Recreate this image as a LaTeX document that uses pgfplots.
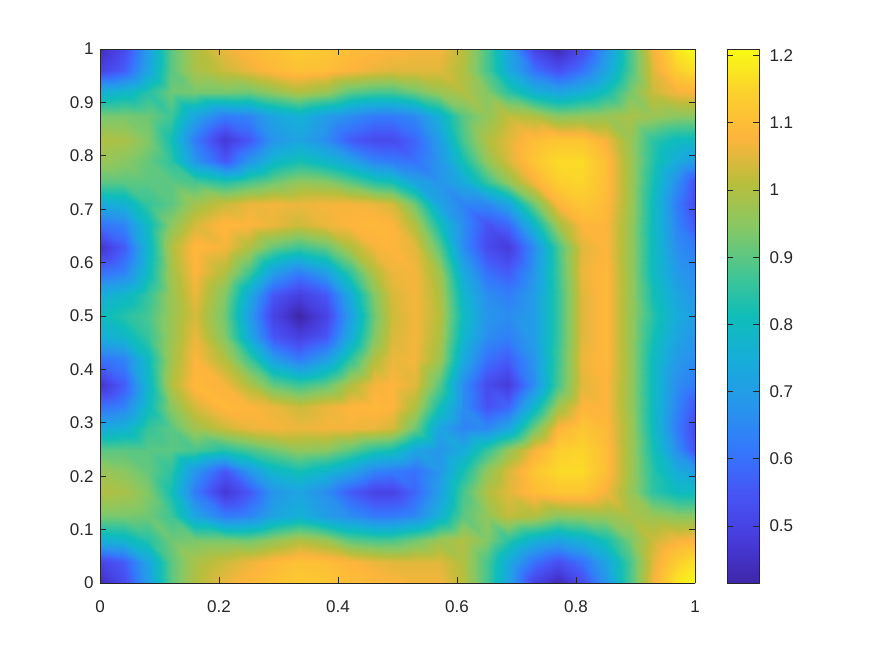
\documentclass[border=0pt]{standalone}
\usepackage{fontspec}
\setmainfont{Liberation Sans}
\usepackage{pgfplots}
\pgfplotsset{compat=1.18}
\definecolor{axgray}{gray}{0.15}
\pgfplotsset{colormap={parula}{
rgb255=(62,38,168) rgb255=(71,60,220) rgb255=(71,85,246) rgb255=(52,120,252)
rgb255=(39,150,235) rgb255=(23,173,218) rgb255=(15,189,185) rgb255=(70,198,145)
rgb255=(135,200,100) rgb255=(185,190,60) rgb255=(253,180,60) rgb255=(252,208,45)
rgb255=(249,251,21)},
  every axis/.append style={
    scale only axis, height=534pt,
    view={0}{90}, axis on top,
    colormap name=parula,
    point meta min=0.415, point meta max=1.21,
    tick align=inside,
    major tick length=6pt,
    axis line style={axgray,line width=0.7pt},
    tick style={axgray,line width=0.7pt},
    ticklabel style={text=axgray,font=\fontsize{17}{20}\selectfont},
    /pgf/number format/assume math mode=true,
  }}
\begin{document}
\begin{tikzpicture}
\useasboundingbox (-100pt,-73pt) rectangle (775pt,583pt);
\begin{axis}[
  width=595pt,
  xmin=0, xmax=1, ymin=0, ymax=1,
  xtick={0,0.2,0.4,0.6,0.8,1},
  ytick={0,0.1,0.2,0.3,0.4,0.5,0.6,0.7,0.8,0.9,1},
  xticklabel style={yshift=-14pt},
  yticklabel style={xshift=-3pt},
]
\addplot3[surf, shader=interp, mesh/cols=26, mesh/rows=25] table[row sep=\\] {
x y z\\
0 0 .44\\.04 0 .52\\.08 0 .70\\.12 0 .90\\.16 0 1.00\\.21 0 1.06\\.25 0 1.09\\.29 0 1.11\\.335 0 1.13\\.38 0 1.12\\.42 0 1.10\\.46 0 1.09\\.49 0 1.08\\.53 0 1.07\\.57 0 1.07\\.61 0 1.01\\.65 0 .88\\.685 0 .72\\.73 0 .50\\.77 0 .43\\.81 0 .52\\.85 0 .68\\.89 0 .88\\.93 0 1.07\\.97 0 1.18\\1 0 1.21\\
0 .04 .50\\.04 .04 .56\\.08 .04 .72\\.12 .04 .90\\.16 .04 .99\\.21 .04 1.03\\.25 .04 1.06\\.29 .04 1.09\\.335 .04 1.11\\.38 .04 1.10\\.42 .04 1.08\\.46 .04 1.06\\.49 .04 1.05\\.53 .04 1.05\\.57 .04 1.05\\.61 .04 1.00\\.65 .04 .88\\.685 .04 .74\\.73 .04 .60\\.77 .04 .53\\.81 .04 .60\\.85 .04 .72\\.89 .04 .88\\.93 .04 1.05\\.97 .04 1.14\\1 .04 1.17\\
0 .08 .76\\.04 .08 .78\\.08 .08 .84\\.12 .08 .92\\.16 .08 .93\\.21 .08 .93\\.25 .08 .92\\.29 .08 .96\\.335 .08 1.00\\.38 .08 .97\\.42 .08 .90\\.46 .08 .88\\.49 .08 .88\\.53 .08 .92\\.57 .08 .97\\.61 .08 1.00\\.65 .08 .94\\.685 .08 .85\\.73 .08 .76\\.77 .08 .72\\.81 .08 .76\\.85 .08 .82\\.89 .08 .93\\.93 .08 1.03\\.97 .08 1.07\\1 .08 1.08\\
0 .125 .93\\.04 .125 .93\\.08 .125 .92\\.12 .125 .87\\.16 .125 .72\\.21 .125 .62\\.25 .125 .64\\.29 .125 .72\\.335 .125 .76\\.38 .125 .70\\.42 .125 .66\\.46 .125 .62\\.49 .125 .62\\.53 .125 .65\\.57 .125 .76\\.61 .125 .90\\.65 .125 .96\\.685 .125 1.02\\.73 .125 1.00\\.77 .125 .95\\.81 .125 .96\\.85 .125 .97\\.89 .125 .99\\.93 .125 .97\\.97 .125 .95\\1 .125 .95\\
0 .17 1.00\\.04 .17 .99\\.08 .17 .94\\.12 .17 .82\\.16 .17 .62\\.21 .17 .47\\.25 .17 .55\\.29 .17 .68\\.335 .17 .72\\.38 .17 .66\\.42 .17 .56\\.46 .17 .50\\.49 .17 .50\\.53 .17 .58\\.57 .17 .70\\.61 .17 .88\\.65 .17 1.00\\.685 .17 1.05\\.73 .17 1.10\\.77 .17 1.12\\.81 .17 1.12\\.85 .17 1.07\\.89 .17 .97\\.93 .17 .85\\.97 .17 .80\\1 .17 .80\\
0 .21 .97\\.04 .21 .95\\.08 .21 .91\\.12 .21 .85\\.16 .21 .68\\.21 .21 .55\\.25 .21 .68\\.29 .21 .78\\.335 .21 .82\\.38 .21 .78\\.42 .21 .72\\.46 .21 .64\\.49 .21 .62\\.53 .21 .60\\.57 .21 .68\\.61 .21 .82\\.65 .21 .96\\.685 .21 1.04\\.73 .21 1.12\\.77 .21 1.16\\.81 .21 1.16\\.85 .21 1.10\\.89 .21 .98\\.93 .21 .84\\.97 .21 .74\\1 .21 .70\\
0 .25 .90\\.04 .25 .90\\.08 .25 .90\\.12 .25 .90\\.16 .25 .88\\.21 .25 .84\\.25 .25 .88\\.29 .25 .92\\.335 .25 .96\\.38 .25 .95\\.42 .25 .90\\.46 .25 .84\\.49 .25 .82\\.53 .25 .72\\.57 .25 .68\\.61 .25 .74\\.65 .25 .86\\.685 .25 .96\\.73 .25 1.07\\.77 .25 1.14\\.81 .25 1.15\\.85 .25 1.10\\.89 .25 .98\\.93 .25 .82\\.97 .25 .66\\1 .25 .54\\
0 .29 .74\\.04 .29 .76\\.08 .29 .86\\.12 .29 .90\\.16 .29 .98\\.21 .29 1.03\\.25 .29 1.06\\.29 .29 1.07\\.335 .29 1.06\\.38 .29 1.07\\.42 .29 1.07\\.46 .29 1.06\\.49 .29 1.04\\.53 .29 .92\\.57 .29 .72\\.61 .29 .64\\.65 .29 .65\\.685 .29 .72\\.73 .29 .92\\.77 .29 1.08\\.81 .29 1.12\\.85 .29 1.09\\.89 .29 .98\\.93 .29 .80\\.97 .29 .62\\1 .29 .52\\
0 .33 .60\\.04 .33 .64\\.08 .33 .80\\.12 .33 .95\\.16 .33 1.04\\.21 .33 1.09\\.25 .33 1.08\\.29 .33 1.06\\.335 .33 1.03\\.38 .33 1.06\\.42 .33 1.08\\.46 .33 1.09\\.49 .33 1.08\\.53 .33 1.00\\.57 .33 .82\\.61 .33 .66\\.65 .33 .54\\.685 .33 .58\\.73 .33 .78\\.77 .33 .98\\.81 .33 1.08\\.85 .33 1.08\\.89 .33 .97\\.93 .33 .80\\.97 .33 .64\\1 .33 .55\\
0 .37 .46\\.04 .37 .56\\.08 .37 .78\\.12 .37 1.00\\.16 .37 1.09\\.21 .37 1.07\\.25 .37 1.00\\.29 .37 .91\\.335 .37 .87\\.38 .37 .91\\.42 .37 1.00\\.46 .37 1.07\\.49 .37 1.08\\.53 .37 1.05\\.57 .37 .90\\.61 .37 .66\\.65 .37 .52\\.685 .37 .48\\.73 .37 .66\\.77 .37 .88\\.81 .37 1.05\\.85 .37 1.08\\.89 .37 .97\\.93 .37 .80\\.97 .37 .66\\1 .37 .62\\
0 .42 .60\\.04 .42 .64\\.08 .42 .80\\.12 .42 .98\\.16 .42 1.08\\.21 .42 1.00\\.25 .42 .87\\.29 .42 .70\\.335 .42 .62\\.38 .42 .70\\.42 .42 .85\\.46 .42 1.00\\.49 .42 1.06\\.53 .42 1.07\\.57 .42 .98\\.61 .42 .74\\.65 .42 .60\\.685 .42 .56\\.73 .42 .68\\.77 .42 .87\\.81 .42 1.06\\.85 .42 1.09\\.89 .42 .97\\.93 .42 .80\\.97 .42 .69\\1 .42 .66\\
0 .46 .75\\.04 .46 .78\\.08 .46 .86\\.12 .46 .97\\.16 .46 1.06\\.21 .46 .94\\.25 .46 .74\\.29 .46 .55\\.335 .46 .49\\.38 .46 .55\\.42 .46 .74\\.46 .46 .94\\.49 .46 1.04\\.53 .46 1.07\\.57 .46 1.00\\.61 .46 .78\\.65 .46 .66\\.685 .46 .63\\.73 .46 .70\\.77 .46 .86\\.81 .46 1.05\\.85 .46 1.09\\.89 .46 .97\\.93 .46 .82\\.97 .46 .72\\1 .46 .68\\
0 .5 .80\\.04 .5 .84\\.08 .5 .88\\.12 .5 .97\\.16 .5 1.04\\.21 .5 .92\\.25 .5 .70\\.29 .5 .50\\.335 .5 .415\\.38 .5 .50\\.42 .5 .70\\.46 .5 .92\\.49 .5 1.03\\.53 .5 1.07\\.57 .5 1.01\\.61 .5 .80\\.65 .5 .68\\.685 .5 .66\\.73 .5 .70\\.77 .5 .86\\.81 .5 1.05\\.85 .5 1.09\\.89 .5 .97\\.93 .5 .84\\.97 .5 .74\\1 .5 .70\\
0 .54 .75\\.04 .54 .78\\.08 .54 .86\\.12 .54 .97\\.16 .54 1.06\\.21 .54 .94\\.25 .54 .74\\.29 .54 .55\\.335 .54 .49\\.38 .54 .55\\.42 .54 .74\\.46 .54 .94\\.49 .54 1.04\\.53 .54 1.07\\.57 .54 1.00\\.61 .54 .78\\.65 .54 .66\\.685 .54 .63\\.73 .54 .70\\.77 .54 .86\\.81 .54 1.05\\.85 .54 1.09\\.89 .54 .97\\.93 .54 .82\\.97 .54 .72\\1 .54 .68\\
0 .58 .60\\.04 .58 .64\\.08 .58 .80\\.12 .58 .98\\.16 .58 1.08\\.21 .58 1.00\\.25 .58 .87\\.29 .58 .70\\.335 .58 .62\\.38 .58 .70\\.42 .58 .85\\.46 .58 1.00\\.49 .58 1.06\\.53 .58 1.07\\.57 .58 .98\\.61 .58 .74\\.65 .58 .60\\.685 .58 .56\\.73 .58 .68\\.77 .58 .87\\.81 .58 1.06\\.85 .58 1.09\\.89 .58 .97\\.93 .58 .80\\.97 .58 .69\\1 .58 .66\\
0 .63 .46\\.04 .63 .56\\.08 .63 .78\\.12 .63 1.00\\.16 .63 1.09\\.21 .63 1.07\\.25 .63 1.00\\.29 .63 .91\\.335 .63 .87\\.38 .63 .91\\.42 .63 1.00\\.46 .63 1.07\\.49 .63 1.08\\.53 .63 1.05\\.57 .63 .90\\.61 .63 .66\\.65 .63 .52\\.685 .63 .48\\.73 .63 .66\\.77 .63 .88\\.81 .63 1.05\\.85 .63 1.08\\.89 .63 .97\\.93 .63 .80\\.97 .63 .66\\1 .63 .62\\
0 .67 .60\\.04 .67 .64\\.08 .67 .80\\.12 .67 .95\\.16 .67 1.04\\.21 .67 1.09\\.25 .67 1.08\\.29 .67 1.06\\.335 .67 1.03\\.38 .67 1.06\\.42 .67 1.08\\.46 .67 1.09\\.49 .67 1.08\\.53 .67 1.00\\.57 .67 .82\\.61 .67 .66\\.65 .67 .54\\.685 .67 .58\\.73 .67 .78\\.77 .67 .98\\.81 .67 1.08\\.85 .67 1.08\\.89 .67 .97\\.93 .67 .80\\.97 .67 .64\\1 .67 .55\\
0 .71 .74\\.04 .71 .76\\.08 .71 .86\\.12 .71 .90\\.16 .71 .98\\.21 .71 1.03\\.25 .71 1.06\\.29 .71 1.07\\.335 .71 1.06\\.38 .71 1.07\\.42 .71 1.07\\.46 .71 1.06\\.49 .71 1.04\\.53 .71 .92\\.57 .71 .72\\.61 .71 .64\\.65 .71 .65\\.685 .71 .72\\.73 .71 .92\\.77 .71 1.08\\.81 .71 1.12\\.85 .71 1.09\\.89 .71 .98\\.93 .71 .80\\.97 .71 .62\\1 .71 .52\\
0 .75 .90\\.04 .75 .90\\.08 .75 .90\\.12 .75 .90\\.16 .75 .88\\.21 .75 .84\\.25 .75 .88\\.29 .75 .92\\.335 .75 .96\\.38 .75 .95\\.42 .75 .90\\.46 .75 .84\\.49 .75 .82\\.53 .75 .72\\.57 .75 .68\\.61 .75 .74\\.65 .75 .86\\.685 .75 .96\\.73 .75 1.07\\.77 .75 1.14\\.81 .75 1.15\\.85 .75 1.10\\.89 .75 .98\\.93 .75 .82\\.97 .75 .66\\1 .75 .54\\
0 .79 .97\\.04 .79 .95\\.08 .79 .91\\.12 .79 .85\\.16 .79 .68\\.21 .79 .55\\.25 .79 .68\\.29 .79 .78\\.335 .79 .82\\.38 .79 .78\\.42 .79 .72\\.46 .79 .64\\.49 .79 .62\\.53 .79 .60\\.57 .79 .68\\.61 .79 .82\\.65 .79 .96\\.685 .79 1.04\\.73 .79 1.12\\.77 .79 1.16\\.81 .79 1.16\\.85 .79 1.10\\.89 .79 .98\\.93 .79 .84\\.97 .79 .74\\1 .79 .70\\
0 .83 1.00\\.04 .83 .99\\.08 .83 .94\\.12 .83 .82\\.16 .83 .62\\.21 .83 .47\\.25 .83 .55\\.29 .83 .68\\.335 .83 .72\\.38 .83 .66\\.42 .83 .56\\.46 .83 .52\\.49 .83 .52\\.53 .83 .58\\.57 .83 .70\\.61 .83 .88\\.65 .83 1.00\\.685 .83 1.05\\.73 .83 1.10\\.77 .83 1.12\\.81 .83 1.12\\.85 .83 1.07\\.89 .83 .97\\.93 .83 .85\\.97 .83 .80\\1 .83 .80\\
0 .875 .93\\.04 .875 .93\\.08 .875 .92\\.12 .875 .87\\.16 .875 .72\\.21 .875 .62\\.25 .875 .64\\.29 .875 .72\\.335 .875 .76\\.38 .875 .70\\.42 .875 .66\\.46 .875 .62\\.49 .875 .62\\.53 .875 .65\\.57 .875 .76\\.61 .875 .90\\.65 .875 .96\\.685 .875 1.02\\.73 .875 1.00\\.77 .875 .95\\.81 .875 .96\\.85 .875 .97\\.89 .875 .99\\.93 .875 .97\\.97 .875 .95\\1 .875 .95\\
0 .92 .76\\.04 .92 .78\\.08 .92 .84\\.12 .92 .92\\.16 .92 .93\\.21 .92 .93\\.25 .92 .92\\.29 .92 .96\\.335 .92 1.00\\.38 .92 .97\\.42 .92 .90\\.46 .92 .88\\.49 .92 .88\\.53 .92 .92\\.57 .92 .97\\.61 .92 1.00\\.65 .92 .94\\.685 .92 .85\\.73 .92 .76\\.77 .92 .72\\.81 .92 .76\\.85 .92 .82\\.89 .92 .93\\.93 .92 1.03\\.97 .92 1.07\\1 .92 1.08\\
0 .96 .50\\.04 .96 .56\\.08 .96 .72\\.12 .96 .90\\.16 .96 .99\\.21 .96 1.03\\.25 .96 1.06\\.29 .96 1.09\\.335 .96 1.11\\.38 .96 1.10\\.42 .96 1.08\\.46 .96 1.06\\.49 .96 1.05\\.53 .96 1.05\\.57 .96 1.05\\.61 .96 1.00\\.65 .96 .88\\.685 .96 .74\\.73 .96 .60\\.77 .96 .53\\.81 .96 .60\\.85 .96 .72\\.89 .96 .88\\.93 .96 1.05\\.97 .96 1.14\\1 .96 1.17\\
0 1 .44\\.04 1 .52\\.08 1 .70\\.12 1 .90\\.16 1 1.00\\.21 1 1.06\\.25 1 1.09\\.29 1 1.11\\.335 1 1.13\\.38 1 1.12\\.42 1 1.10\\.46 1 1.09\\.49 1 1.08\\.53 1 1.07\\.57 1 1.07\\.61 1 1.01\\.65 1 .88\\.685 1 .72\\.73 1 .50\\.77 1 .43\\.81 1 .52\\.85 1 .68\\.89 1 .88\\.93 1 1.07\\.97 1 1.18\\1 1 1.21\\
};
\end{axis}
\begin{axis}[
  at={(627pt,0pt)}, anchor=south west,
  width=32pt,
  xmin=0, xmax=1, ymin=0.415, ymax=1.21,
  xtick=\empty,
  ytick={0.5,0.6,0.7,0.8,0.9,1,1.1,1.2},
  ytick pos=both,
  yticklabel pos=right,
  yticklabel style={xshift=7pt},
]
\addplot3[surf, shader=interp, mesh/cols=2, mesh/rows=2] table[row sep=\\] {
x y z\\
0 0.415 0.415\\1 0.415 0.415\\
0 1.21 1.21\\1 1.21 1.21\\
};
\end{axis}
\end{tikzpicture}
\end{document}
